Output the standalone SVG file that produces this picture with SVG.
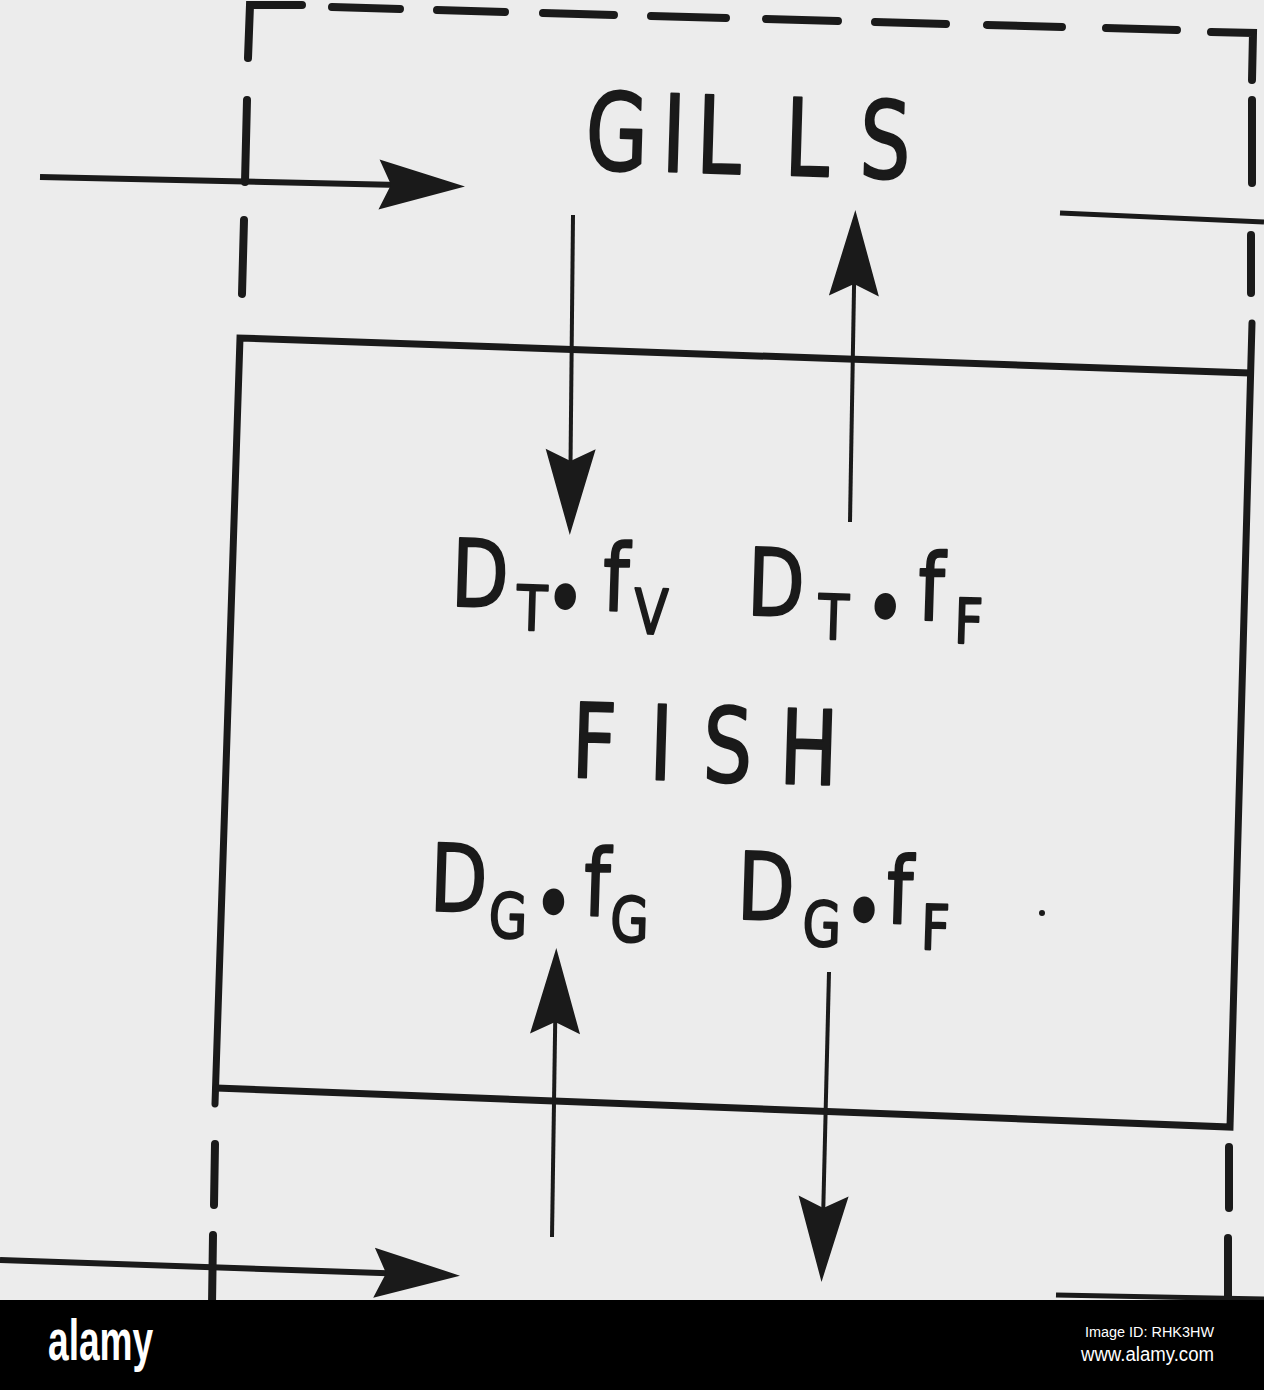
<svg xmlns="http://www.w3.org/2000/svg" width="1264" height="1390" viewBox="0 0 1264 1390">
<style>
.bg{fill:#ececec}
.dash{stroke:#1a1a1a;stroke-width:8;stroke-linecap:round;fill:none}
.solid{stroke:#1a1a1a;stroke-width:7;stroke-linecap:round;stroke-linejoin:miter;fill:none}
.conn{stroke:#1a1a1a;fill:none}
.thick{stroke-width:6}
.thin{stroke-width:4}
.lbl{font-family:"DejaVu Sans","Liberation Sans",sans-serif;fill:#1a1a1a;stroke:#1a1a1a;stroke-width:2.2;stroke-linejoin:round;text-anchor:middle}
.big{font-size:93px}
.sub{font-size:62px}
.dot{font-size:85px}
.brand{font-family:"Liberation Sans",Arial,sans-serif;fill:#ffffff}
</style>
<defs>
<marker id="head" markerUnits="userSpaceOnUse" viewBox="-90 -30 100 60" markerWidth="100" markerHeight="60" refX="-20" refY="0" orient="auto" overflow="visible">
<path d="M0,0 L-86,-25 L-74,0 L-86,25 Z" fill="#1a1a1a"/>
</marker>
</defs>
<rect class="bg" x="0" y="0" width="1264" height="1390"/>

<g id="gills-compartment">
<path class="dash" d="M302,5 L250,5 L248,58"/>
<path class="dash" d="M247,100 L245,182"/>
<path class="dash" d="M244,220 L242,294"/>
<path class="dash" d="M215,1144 L214,1205"/>
<path class="dash" d="M213,1235 L212,1305"/>
<path class="dash" d="M332,7 L400,9"/>
<path class="dash" d="M437,10 L505,12"/>
<path class="dash" d="M543,13 L614,15"/>
<path class="dash" d="M651,16 L726,18"/>
<path class="dash" d="M766,19 L838,21"/>
<path class="dash" d="M875,22 L946,24"/>
<path class="dash" d="M987,25 L1062,27"/>
<path class="dash" d="M1106,28 L1177,30"/>
<path class="dash" d="M1211,32 L1253,33 L1252,80"/>
<path class="dash" d="M1252,100 L1252,183"/>
<path class="dash" d="M1251,235 L1251,293"/>
<path class="dash" d="M1229,1147 L1229,1208"/>
<path class="dash" d="M1228,1238 L1228,1305"/>
<text id="gills-text" class="lbl" font-size="107" transform="translate(750,174) rotate(1.7) scale(0.75,1)"><tspan x="-179" y="0">G</tspan><tspan x="-103" y="0">I</tspan><tspan x="-43" y="0">L</tspan><tspan x="75" y="0">L</tspan><tspan x="179" y="0">S</tspan></text>
</g>

<g id="fish-compartment">
<path class="solid" d="M215,1104 L240,338 L1250,373"/>
<path class="solid" d="M1252,323 L1230,1127 L216,1088"/>
<text id="fish-text" class="lbl" font-size="103" transform="translate(705,781) rotate(1.7) scale(0.75,1)"><tspan x="-149" y="0">F</tspan><tspan x="-60" y="0">I</tspan><tspan x="29" y="0">S</tspan><tspan x="137" y="0">H</tspan></text>
</g>

<g id="label-dt-fv">
<text class="lbl big" transform="translate(560,609) rotate(1.7) scale(0.8,1)"><tspan x="-101" y="0">D</tspan><tspan class="sub" x="-35" y="22">T</tspan><tspan class="dot" x="6" y="19">•</tspan><tspan x="69" y="0">f</tspan><tspan class="sub" x="114" y="22">V</tspan></text>
</g>
<g id="label-dt-ff">
<text class="lbl big" transform="translate(860,618) rotate(1.7) scale(0.8,1)"><tspan x="-106" y="0">D</tspan><tspan class="sub" x="-33" y="22">T</tspan><tspan class="dot" x="31" y="19">•</tspan><tspan x="88" y="0">f</tspan><tspan class="sub" x="136" y="22">F</tspan></text>
</g>
<g id="label-dg-fg">
<text class="lbl big" transform="translate(545,914) rotate(1.7) scale(0.8,1)"><tspan x="-109" y="0">D</tspan><tspan class="sub" x="-46" y="25">G</tspan><tspan class="dot" x="10" y="19">•</tspan><tspan x="64" y="0">f</tspan><tspan class="sub" x="106" y="25">G</tspan></text>
</g>
<g id="label-dg-ff">
<text class="lbl big" transform="translate(850,922) rotate(1.7) scale(0.8,1)"><tspan x="-106" y="0">D</tspan><tspan class="sub" x="-35" y="25">G</tspan><tspan class="dot" x="17" y="19">•</tspan><tspan x="61" y="0">f</tspan><tspan class="sub" x="107" y="25">F</tspan></text>
</g>
<circle cx="1042" cy="913" r="3" fill="#1a1a1a"/>

<g id="connectors">
<path class="conn thick" d="M40,177 L445,186" marker-end="url(#head)"/>
<path class="conn thin" d="M573,215 L570,515" marker-end="url(#head)"/>
<path class="conn thin" d="M850,522 L855,230" marker-end="url(#head)"/>
<path class="conn thin" d="M552,1237 L556,968" marker-end="url(#head)"/>
<path class="conn thin" d="M829,972 L822,1262" marker-end="url(#head)"/>
<path class="conn thick" d="M0,1260 L440,1275" marker-end="url(#head)"/>
<path class="conn" stroke-width="5" d="M1060,213 L1264,222"/>
<path class="conn" stroke-width="5" d="M1056,1295 L1264,1299"/>
</g>

<g id="footer">
<rect x="0" y="1300" width="1264" height="90" fill="#000000"/>
<text class="brand" font-size="58" font-weight="bold" transform="translate(48,1360) scale(0.64,1)">alamy</text>
<text class="brand" font-size="14" x="1214" y="1337" text-anchor="end" textLength="129" lengthAdjust="spacingAndGlyphs">Image ID: RHK3HW</text>
<text class="brand" font-size="20" x="1214" y="1361" text-anchor="end" textLength="133" lengthAdjust="spacingAndGlyphs">www.alamy.com</text>
</g>
</svg>
